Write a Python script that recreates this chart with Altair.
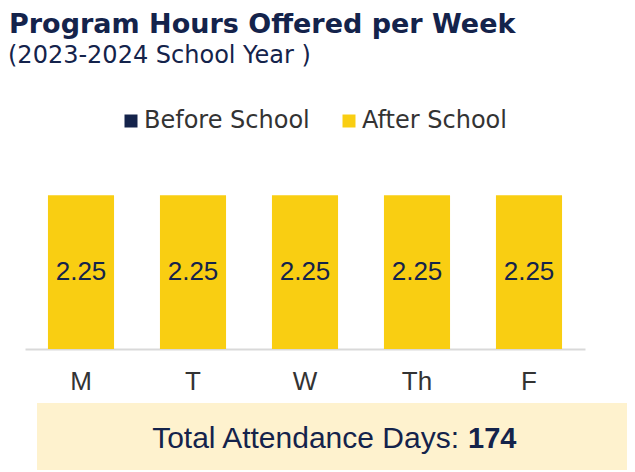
import altair as alt
import pandas as pd

# ---- data ----
days = ["M", "T", "W", "Th", "F"]
before_school = [0, 0, 0, 0, 0]
after_school = [2.25, 2.25, 2.25, 2.25, 2.25]
sessions = ["Before School", "After School"]
session_colors = ["#14234B", "#F9CE12"]
title_text = ["Program Hours Offered per Week"]
subtitle_text = ["(2023-2024 School Year )"]
footer_label = ["Total Attendance Days:"]
footer_value = ["174"]

NAVY = "#14234B"
FONT = "Liberation Sans"
HEAD_FONT = "DejaVu Sans"

rows = []
for d, b, a in zip(days, before_school, after_school):
    rows.append({"day": d, "session": "Before School", "hours": b, "ord": 0})
    rows.append({"day": d, "session": "After School", "hours": a, "ord": 1})
long_df = pd.DataFrame(rows)
wide_df = pd.DataFrame({"day": days, "before": before_school, "after": after_school})
info_df = pd.DataFrame({
    "title": title_text, "subtitle": subtitle_text,
    "flabel": footer_label, "fvalue": footer_value,
})

x_enc = alt.X(
    "day:N", sort=days,
    scale=alt.Scale(paddingInner=0.41, paddingOuter=0.205),
    axis=alt.Axis(title=None, labelAngle=0, ticks=False, grid=False,
                  domainColor="#D9D9D9", domainWidth=2,
                  labelFontSize=26, labelFont=FONT, labelColor="#333333",
                  labelBaseline="alphabetic", labelPadding=40),
)
y_scale = alt.Scale(domain=[0, 3])

bars = alt.Chart(long_df).mark_bar().encode(
    x=x_enc,
    y=alt.Y("hours:Q", stack="zero", scale=y_scale, axis=None),
    color=alt.Color(
        "session:N",
        scale=alt.Scale(domain=sessions, range=session_colors),
        legend=alt.Legend(
            title=None, orient="none", legendX=94, legendY=-35,
            direction="horizontal", symbolType="square", symbolSize=169,
            symbolStrokeWidth=0, symbolOpacity=1,
            labelFontSize=24, labelFont=HEAD_FONT, labelColor="#333333",
            labelOffset=1, columnPadding=27, padding=0, labelLimit=400,
        ),
    ),
    order=alt.Order("ord:Q"),
)

labels = alt.Chart(wide_df).transform_calculate(
    mid="datum.before + datum.after / 2"
).mark_text(font=FONT, fontSize=26, color=NAVY, baseline="middle").encode(
    x=alt.X("day:N", sort=days),
    y=alt.Y("mid:Q", scale=y_scale),
    text=alt.Text("after:Q", format=".2f"),
)

title = alt.Chart(info_df).mark_text(
    font=HEAD_FONT, fontSize=27, fontWeight="bold", color=NAVY,
    align="left", baseline="alphabetic",
).encode(x=alt.value(-16), y=alt.value(-111), text="title:N")

subtitle = alt.Chart(info_df).mark_text(
    font=HEAD_FONT, fontSize=24, color=NAVY, align="left", baseline="alphabetic",
).encode(x=alt.value(-17), y=alt.value(-81), text="subtitle:N")

footer_box = alt.Chart(info_df).mark_rect(color="#FEF2CE").encode(
    x=alt.value(12), x2=alt.value(602), y=alt.value(259), y2=alt.value(326)
)
footer_lbl = alt.Chart(info_df).mark_text(
    font=FONT, fontSize=30, color=NAVY, align="right", baseline="alphabetic",
).encode(x=alt.value(434), y=alt.value(304), text="flabel:N")
footer_val = alt.Chart(info_df).mark_text(
    font=FONT, fontSize=29, fontWeight="bold", color=NAVY,
    align="left", baseline="alphabetic",
).encode(x=alt.value(443), y=alt.value(304), text="fvalue:N")

chart = alt.layer(
    footer_box, footer_lbl, footer_val, bars, labels, title, subtitle
).properties(
    width=560, height=205,
    padding={"left": 17, "top": 136, "right": 42, "bottom": 123},
    autosize=alt.AutoSizeParams(type="none"),
    background="white",
).configure_view(stroke=None)

chart.save("out.html", embed_options={"renderer": "svg", "actions": False})
